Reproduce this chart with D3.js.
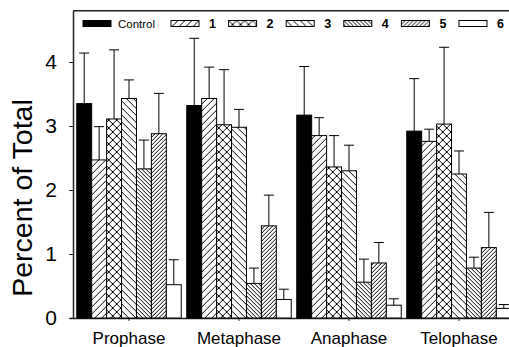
<!DOCTYPE html>
<html>
<head>
<meta charset="utf-8">
<script src="https://cdn.jsdelivr.net/npm/d3@7"></script>
<style>
  body { margin: 0; background: #fff; }
  svg { display: block; font-family: "Liberation Sans", Arial, sans-serif; }
</style>
</head>
<body>
<svg id="chart" width="509" height="347"></svg>
<script>
// categories and series
var phases = ["Prophase", "Metaphase", "Anaphase", "Telophase"];
var seriesNames = ["Control", "1", "2", "3", "4", "5", "6"];

// mean percent of total, one array per treatment (order follows phases)
var controlVals = [3.35, 3.32, 3.17, 2.92];
var t1Vals = [2.47, 3.43, 2.85, 2.76];
var t2Vals = [3.11, 3.02, 2.36, 3.03];
var t3Vals = [3.43, 2.98, 2.30, 2.25];
var t4Vals = [2.33, 0.54, 0.56, 0.78];
var t5Vals = [2.88, 1.44, 0.86, 1.10];
var t6Vals = [0.52, 0.29, 0.20, 0.15];

// upper error (sd) for each
var controlErr = [0.79, 1.05, 0.76, 0.82];
var t1Err = [0.52, 0.49, 0.28, 0.19];
var t2Err = [1.08, 0.86, 0.49, 1.20];
var t3Err = [0.29, 0.28, 0.40, 0.36];
var t4Err = [0.45, 0.24, 0.36, 0.17];
var t5Err = [0.63, 0.48, 0.32, 0.55];
var t6Err = [0.39, 0.16, 0.10, 0.06];

var yTicks = [0, 1, 2, 3, 4];

var allVals = [controlVals, t1Vals, t2Vals, t3Vals, t4Vals, t5Vals, t6Vals];
var allErr = [controlErr, t1Err, t2Err, t3Err, t4Err, t5Err, t6Err];

var svg = d3.select("#chart");

// scales
var x0 = d3.scaleBand().domain(phases).range([74, 514]).paddingInner(0.05).paddingOuter(0.025);
var x1 = d3.scaleBand().domain(seriesNames).range([0, x0.bandwidth()]);
var y = d3.scaleLinear().domain([0, 4.8]).range([318, 10.8]);

// fill patterns for each treatment
var defs = svg.append("defs");
function hatch(id, size, kind) {
  var p = defs.append("pattern")
    .attr("id", id)
    .attr("patternUnits", "userSpaceOnUse")
    .attr("width", size)
    .attr("height", size);
  p.append("rect").attr("width", size).attr("height", size).attr("fill", "#fff");
  var s = size;
  var fwd = "M0," + s + "L" + s + ",0M-1,1L1,-1M" + (s - 1) + "," + (s + 1) + "L" + (s + 1) + "," + (s - 1);
  var back = "M0,0L" + s + "," + s + "M-1," + (s - 1) + "L1," + (s + 1) + "M" + (s - 1) + ",-1L" + (s + 1) + ",1";
  var d = kind == "fwd" ? fwd : kind == "back" ? back : fwd + back;
  p.append("path").attr("d", d).attr("stroke", "#000").attr("stroke-width", 1).attr("fill", "none");
}
hatch("p1", 7, "fwd");
hatch("p2", 8, "cross");
hatch("p3", 7, "back");
hatch("p4", 4, "back");
hatch("p5", 4, "fwd");

var fills = ["#000", "url(#p1)", "url(#p2)", "url(#p3)", "url(#p4)", "url(#p5)", "#fff"];

// frame top line
svg.append("line")
  .attr("x1", 73).attr("x2", 509)
  .attr("y1", y(4.8)).attr("y2", y(4.8))
  .attr("stroke", "#222").attr("stroke-width", 1.5);

// y axis
var yAxis = svg.append("g")
  .attr("transform", "translate(73,0)")
  .call(d3.axisLeft(y).tickValues(yTicks).tickFormat(d3.format("d"))
    .tickSize(4).tickPadding(12).tickSizeOuter(0));
yAxis.select(".domain").attr("stroke", "#222").attr("stroke-width", 1.5);
yAxis.selectAll(".tick line").attr("stroke", "#222");
yAxis.selectAll("text").attr("font-size", 21).attr("fill", "#000")
  .style("font-family", "'Liberation Sans', Arial, sans-serif");

// x axis
var xAxis = svg.append("g")
  .attr("transform", "translate(0," + y(0) + ")")
  .call(d3.axisBottom(x0).tickSize(3).tickPadding(11).tickSizeOuter(0));
xAxis.select(".domain").attr("d", "M70,0.5H509").attr("stroke", "#222").attr("stroke-width", 1.5);
xAxis.selectAll(".tick line").attr("stroke", "#222");
xAxis.selectAll("text").attr("font-size", 17).attr("fill", "#000")
  .style("font-family", "'Liberation Sans', Arial, sans-serif");

// y axis title
svg.append("text")
  .attr("transform", "translate(32," + 198 + ") rotate(-90)")
  .attr("text-anchor", "middle")
  .attr("font-size", 28.5)
  .text("Percent of Total");

// bars
var groups = svg.selectAll(".phase")
  .data(phases)
  .enter()
  .append("g")
  .attr("class", "phase")
  .attr("transform", function(d) { return "translate(" + x0(d) + ",0)"; });

var cells = groups.selectAll(".bar")
  .data(function(ph, pi) {
    return seriesNames.map(function(s, si) {
      return { series: s, si: si, v: allVals[si][pi], e: allErr[si][pi] };
    });
  })
  .enter()
  .append("g")
  .attr("class", "bar");

cells.append("rect")
  .attr("x", function(d) { return x1(d.series); })
  .attr("width", x1.bandwidth())
  .attr("y", function(d) { return y(d.v); })
  .attr("height", function(d) { return y(0) - y(d.v); })
  .attr("fill", function(d) { return fills[d.si]; })
  .attr("stroke", "#000")
  .attr("stroke-width", 1);

// error bars, upward only
cells.append("line")
  .attr("x1", function(d) { return x1(d.series) + x1.bandwidth() / 2; })
  .attr("x2", function(d) { return x1(d.series) + x1.bandwidth() / 2; })
  .attr("y1", function(d) { return y(d.v); })
  .attr("y2", function(d) { return y(d.v + d.e); })
  .attr("stroke", "#000").attr("stroke-width", 1);
cells.append("line")
  .attr("x1", function(d) { return x1(d.series) + x1.bandwidth() / 2 - 5; })
  .attr("x2", function(d) { return x1(d.series) + x1.bandwidth() / 2 + 5; })
  .attr("y1", function(d) { return y(d.v + d.e); })
  .attr("y2", function(d) { return y(d.v + d.e); })
  .attr("stroke", "#000").attr("stroke-width", 1);

// legend
var legend = svg.append("g").attr("class", "legend");
var legendItems = legend.selectAll("g")
  .data(seriesNames)
  .enter()
  .append("g")
  .attr("transform", function(d, i) {
    var lx = i == 0 ? 83 : 171 + (i - 1) * 57.6;
    return "translate(" + lx + ",20.5)";
  });
legendItems.append("rect")
  .attr("width", 28).attr("height", 6)
  .attr("fill", function(d, i) { return fills[i]; })
  .attr("stroke", "#000").attr("stroke-width", 1);
legendItems.append("text")
  .attr("x", function(d, i) { return i == 0 ? 35 : 38; })
  .attr("y", 7)
  .attr("font-size", function(d, i) { return i == 0 ? 11.5 : 12.5; })
  .attr("font-weight", function(d, i) { return i == 0 ? "normal" : "bold"; })
  .text(function(d) { return d; });
</script>
</body>
</html>
